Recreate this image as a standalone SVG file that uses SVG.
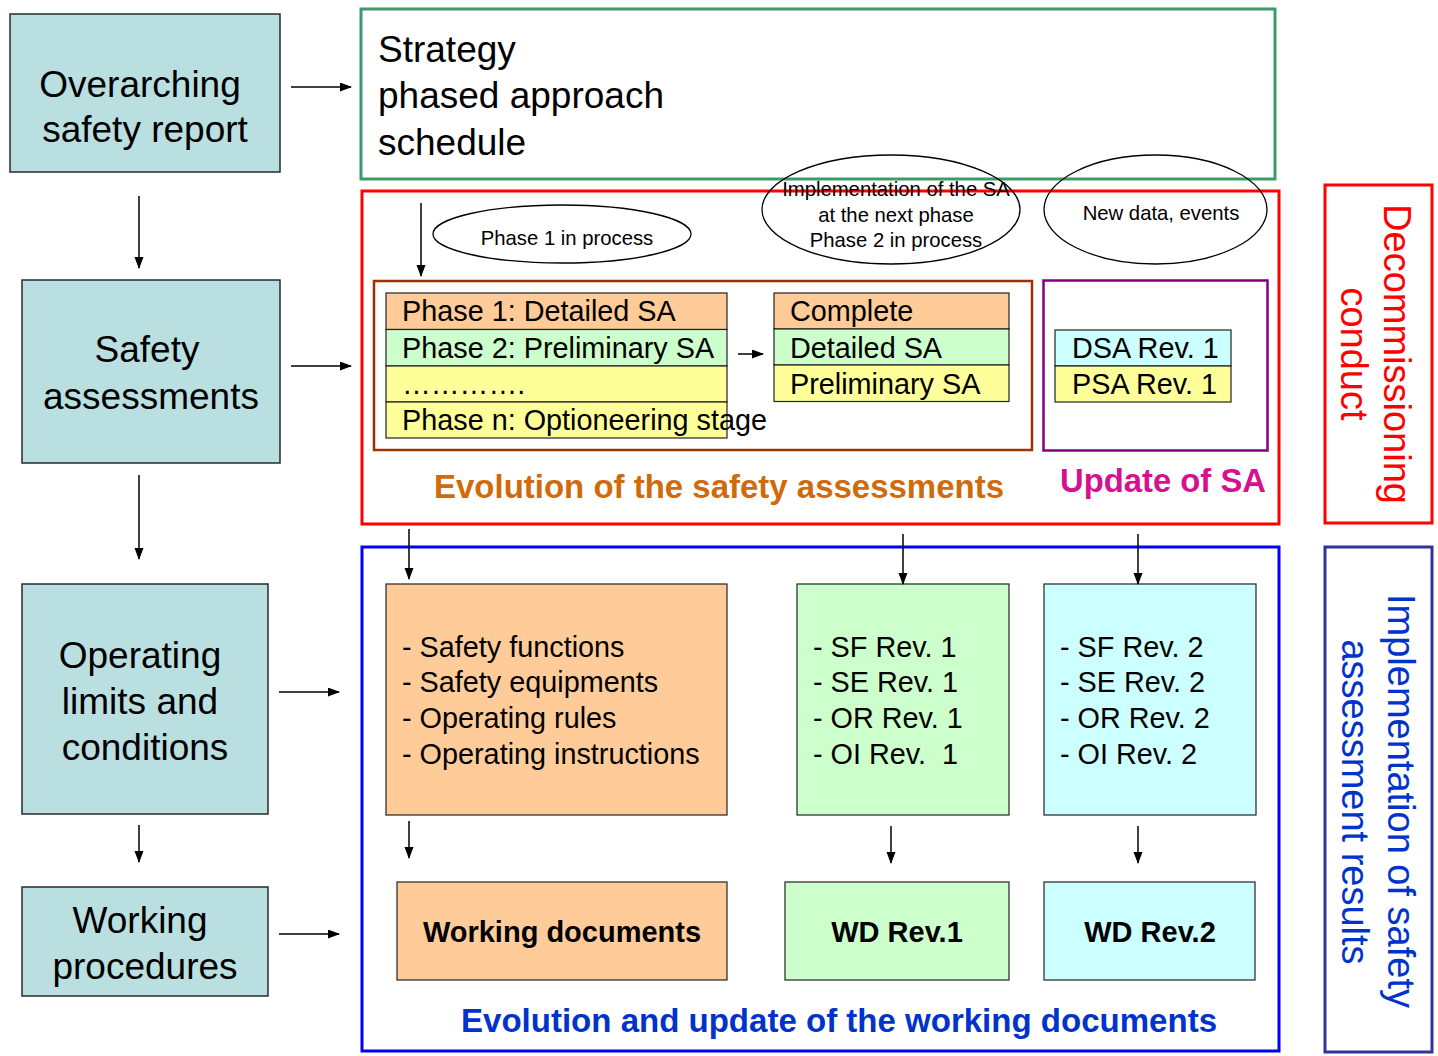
<svg xmlns="http://www.w3.org/2000/svg" width="1438" height="1056" viewBox="0 0 1438 1056">
<defs>
<marker id="ah" markerWidth="12" markerHeight="10" refX="11" refY="4.5" orient="auto" markerUnits="userSpaceOnUse">
<path d="M0,0 L12,4.5 L0,9 z" fill="#000"/>
</marker>
<style>
text{font-family:"Liberation Sans",Arial,sans-serif;fill:#000}
.lb{fill:#BADFE1;stroke:#2a2a2a;stroke-width:1.5}
.t37{font-size:37px}
.t29{font-size:28.8px}
.t20{font-size:20.3px}
.b26{font-size:29px;font-weight:bold}
.or{fill:#FFCC99;stroke:#222;stroke-width:1.2}
.gr{fill:#CCFFCC;stroke:#222;stroke-width:1.2}
.cy{fill:#CCFFFF;stroke:#222;stroke-width:1.2}
.ye{fill:#FFFF99;stroke:#222;stroke-width:1.2}
.ell{fill:none;stroke:#000;stroke-width:1.3}
.arr{stroke:#000;stroke-width:1.5;fill:none;marker-end:url(#ah)}
</style>
</defs>

<g id="overarching">
<rect class="lb" x="10" y="14" width="270" height="158"/>
<text class="t37" x="140" y="97" text-anchor="middle">Overarching</text>
<text class="t37" x="145" y="142" text-anchor="middle">safety report</text>
</g>
<g id="safety-assessments">
<rect class="lb" x="22" y="280" width="258" height="183"/>
<text class="t37" x="147" y="362" text-anchor="middle">Safety</text>
<text class="t37" x="151" y="409" text-anchor="middle">assessments</text>
</g>
<g id="operating-limits">
<rect class="lb" x="22" y="584" width="246" height="230"/>
<text class="t37" x="140" y="668" text-anchor="middle">Operating</text>
<text class="t37" x="140" y="714" text-anchor="middle">limits and</text>
<text class="t37" x="145" y="760" text-anchor="middle">conditions</text>
</g>
<g id="working-procedures">
<rect class="lb" x="22" y="887" width="246" height="109"/>
<text class="t37" x="140" y="933" text-anchor="middle">Working</text>
<text class="t37" x="145" y="979" text-anchor="middle">procedures</text>
</g>

<g id="strategy">
<rect x="361" y="9" width="914" height="170" fill="none" stroke="#3C9B6B" stroke-width="3"/>
<text class="t37" x="378" y="62">Strategy</text>
<text class="t37" x="378" y="108">phased approach</text>
<text class="t37" x="378" y="155">schedule</text>
</g>

<g id="sa-frame">
<rect x="362" y="191" width="917" height="333" fill="none" stroke="#FF0000" stroke-width="3"/>
</g>

<g id="ellipse-phase1">
<ellipse class="ell" cx="562" cy="234" rx="129" ry="29"/>
<text class="t20" x="567" y="245" text-anchor="middle">Phase 1 in process</text>
</g>
<g id="ellipse-implementation">
<ellipse class="ell" cx="891" cy="209.5" rx="129" ry="54.5"/>
<text class="t20" x="896" y="196" text-anchor="middle">Implementation of the SA</text>
<text class="t20" x="896" y="222" text-anchor="middle">at the next phase</text>
<text class="t20" x="896" y="247" text-anchor="middle">Phase 2 in process</text>
</g>
<g id="ellipse-newdata">
<ellipse class="ell" cx="1155.5" cy="209.5" rx="111.5" ry="54.5"/>
<text class="t20" x="1161" y="220" text-anchor="middle">New data, events</text>
</g>

<g id="evolution-sa">
<rect x="374" y="281" width="658" height="169" fill="none" stroke="#993300" stroke-width="2.5"/>
<rect class="or" x="386" y="293" width="341" height="36.5"/>
<rect class="gr" x="386" y="329.5" width="341" height="36.5"/>
<rect class="ye" x="386" y="366" width="341" height="36"/>
<rect class="ye" x="386" y="402" width="341" height="36"/>
<text class="t29" x="402" y="321">Phase 1: Detailed SA</text>
<text class="t29" x="402" y="358">Phase 2: Preliminary SA</text>
<text class="t29" x="402" y="394">………….</text>
<text class="t29" x="402" y="430">Phase n: Optioneering stage</text>
<rect class="or" x="774" y="293" width="235" height="36"/>
<rect class="gr" x="774" y="329" width="235" height="36"/>
<rect class="ye" x="774" y="365" width="235" height="36.5"/>
<text class="t29" x="790" y="321">Complete</text>
<text class="t29" x="790" y="358">Detailed SA</text>
<text class="t29" x="790" y="394">Preliminary SA</text>
<text x="719" y="498" text-anchor="middle" font-size="33" font-weight="bold" style="fill:#D06A0A" textLength="570" lengthAdjust="spacingAndGlyphs">Evolution of the safety assessments</text>
</g>

<g id="update-sa">
<rect x="1043.5" y="280.5" width="224" height="170" fill="none" stroke="#800080" stroke-width="2.5"/>
<rect class="cy" x="1055" y="330" width="176" height="36"/>
<rect class="ye" x="1055" y="366" width="176" height="36"/>
<text class="t29" x="1072" y="358">DSA Rev. 1</text>
<text class="t29" x="1072" y="394">PSA Rev. 1</text>
<text x="1163" y="492" text-anchor="middle" font-size="33" font-weight="bold" style="fill:#D6118F" textLength="206" lengthAdjust="spacingAndGlyphs">Update of SA</text>
</g>

<g id="decommissioning">
<rect x="1325" y="185" width="107" height="338" fill="none" stroke="#FF0000" stroke-width="3"/>
<text transform="translate(1384,354) rotate(90)" text-anchor="middle" font-size="38" style="fill:#FF0000">Decommissioning</text>
<text transform="translate(1341,354) rotate(90)" text-anchor="middle" font-size="38" style="fill:#FF0000">conduct</text>
</g>

<g id="wd-frame">
<rect x="362" y="547" width="917" height="504" fill="none" stroke="#0000FF" stroke-width="3"/>
<text x="839" y="1032" text-anchor="middle" font-size="33" font-weight="bold" style="fill:#0033CC" textLength="756" lengthAdjust="spacingAndGlyphs">Evolution and update of the working documents</text>
</g>

<g id="implementation">
<rect x="1325" y="547" width="107" height="505" fill="none" stroke="#333399" stroke-width="3"/>
<text transform="translate(1388,801) rotate(90)" text-anchor="middle" font-size="38" style="fill:#0033CC">Implementation of safety</text>
<text transform="translate(1342,802) rotate(90)" text-anchor="middle" font-size="38" style="fill:#0033CC">assessment results</text>
</g>

<g id="olc-list">
<rect class="or" x="386" y="584" width="341" height="231"/>
<text class="t29" x="402" y="657">- Safety functions</text>
<text class="t29" x="402" y="692">- Safety equipments</text>
<text class="t29" x="402" y="728">- Operating rules</text>
<text class="t29" x="402" y="764">- Operating instructions</text>
</g>
<g id="olc-rev1">
<rect class="gr" x="797" y="584" width="212" height="231"/>
<text class="t29" x="813" y="657">- SF Rev. 1</text>
<text class="t29" x="813" y="692">- SE Rev. 1</text>
<text class="t29" x="813" y="728">- OR Rev. 1</text>
<text class="t29" x="813" y="764" style="white-space:pre">- OI Rev.  1</text>
</g>
<g id="olc-rev2">
<rect class="cy" x="1044" y="584" width="212" height="231"/>
<text class="t29" x="1060" y="657">- SF Rev. 2</text>
<text class="t29" x="1060" y="692">- SE Rev. 2</text>
<text class="t29" x="1060" y="728">- OR Rev. 2</text>
<text class="t29" x="1060" y="764">- OI Rev. 2</text>
</g>

<g id="wd">
<rect class="or" x="397" y="882" width="330" height="98"/>
<text class="b26" x="562" y="942" text-anchor="middle">Working documents</text>
</g>
<g id="wd-rev1">
<rect class="gr" x="785" y="882" width="224" height="98"/>
<text class="b26" x="897" y="942" text-anchor="middle">WD Rev.1</text>
</g>
<g id="wd-rev2">
<rect class="cy" x="1044" y="882" width="211" height="98"/>
<text class="b26" x="1150" y="942" text-anchor="middle">WD Rev.2</text>
</g>

<g id="connectors">
<line class="arr" x1="139" y1="196" x2="139" y2="268"/>
<line class="arr" x1="139" y1="475" x2="139" y2="559"/>
<line class="arr" x1="139" y1="825" x2="139" y2="862"/>
<line class="arr" x1="291" y1="87" x2="351" y2="87"/>
<line class="arr" x1="291" y1="366" x2="351" y2="366"/>
<line class="arr" x1="279" y1="692" x2="339" y2="692"/>
<line class="arr" x1="279" y1="934" x2="339" y2="934"/>
<line class="arr" x1="421" y1="203" x2="421" y2="276"/>
<line class="arr" x1="738" y1="354" x2="763" y2="354"/>
<line class="arr" x1="409" y1="529" x2="409" y2="579"/>
<line class="arr" x1="903" y1="534" x2="903" y2="584"/>
<line class="arr" x1="1138" y1="534" x2="1138" y2="584"/>
<line class="arr" x1="409" y1="821" x2="409" y2="858"/>
<line class="arr" x1="891" y1="826" x2="891" y2="863"/>
<line class="arr" x1="1138" y1="826" x2="1138" y2="863"/>
</g>
</svg>
